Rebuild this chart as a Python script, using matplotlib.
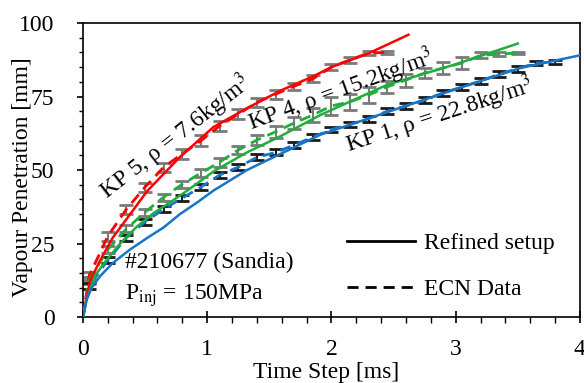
import matplotlib.pyplot as plt
from matplotlib.lines import Line2D
from matplotlib.ticker import MultipleLocator

plt.rcParams['font.family'] = ['Liberation Serif', 'DejaVu Serif']
plt.rcParams['mathtext.fontset'] = 'stix'

# ---- ECN experimental data (mean + error bars) ----
t_ecn_kp5 = [0, 0.05, 0.2, 0.35, 0.5, 0.65, 0.8, 0.95, 1.1, 1.25, 1.4, 1.55, 1.7, 1.85,
             2.0, 2.15, 2.3, 2.45]
s_ecn_kp5 = [0, 14, 27.5, 36.7, 44.2, 51, 55.5, 60, 65, 69, 73, 75.8, 78.5, 81,
             85, 87.5, 89.8, 90]
e_ecn_kp5 = [0, 1.5, 1.5, 1.5, 1.5, 1.5, 1.8, 1.8, 1.8, 1.8, 1.5, 1.5, 1.2, 1.2,
             1.0, 1.0, 0.8, 0.5]

t_ecn_kp4 = [0, 0.05, 0.2, 0.35, 0.5, 0.65, 0.8, 0.95, 1.1, 1.25, 1.4, 1.55, 1.7, 1.85,
             2.0, 2.15, 2.3, 2.45, 2.6, 2.75, 2.9, 3.05, 3.2, 3.35, 3.5]
s_ecn_kp4 = [0, 12.5, 23, 30, 35.7, 40.8, 45.2, 49, 52.7, 56.8, 60.2, 63, 66, 68.7,
             71.8, 73.2, 75.5, 78.3, 80.6, 83, 84.7, 86.4, 89, 89.4, 89.8]
e_ecn_kp4 = [0, 1.2, 1.2, 1.2, 1.2, 1.2, 1.2, 1.2, 1.5, 1.5, 1.8, 2.0, 2.2, 2.5,
             3.0, 2.8, 2.6, 2.0, 2.2, 1.7, 2.0, 2.0, 1.0, 0.7, 0.3]

t_ecn_kp1 = [0, 0.05, 0.2, 0.35, 0.5, 0.65, 0.8, 0.95, 1.1, 1.25, 1.4, 1.55, 1.7, 1.85,
             2.0, 2.15, 2.3, 2.45, 2.6, 2.75, 2.9, 3.05, 3.2, 3.35, 3.5, 3.65, 3.8]
s_ecn_kp1 = [0, 10.5, 19.4, 27, 32.4, 36.7, 40.5, 44.2, 48.3, 51, 54.3, 56, 58.5, 61.2,
             63.8, 65.5, 67.5, 70, 71.8, 73.8, 76.3, 78.2, 80.3, 82.6, 84.5, 86.4, 86.7]
e_ecn_kp1 = [0, 1.0, 1.0, 1.0, 1.0, 1.0, 1.0, 1.0, 1.0, 1.0, 1.0, 1.0, 1.0, 1.0,
             1.0, 1.0, 1.0, 1.0, 1.0, 1.0, 1.0, 1.0, 1.0, 1.0, 1.0, 0.8, 0.8]

# ---- Refined setup (simulation) ----
t_sim_kp5 = [0, 0.03, 0.06, 0.14, 0.24, 0.38, 0.52, 0.78, 1.05, 1.32, 1.59, 1.86, 2.0, 2.29, 2.62]
s_sim_kp5 = [0, 7, 12.6, 19.4, 27, 35, 43, 54.4, 64.6, 71, 77, 82, 85, 89.5, 96]

t_sim_kp4 = [0, 0.03, 0.1, 0.19, 0.3, 0.43, 0.57, 0.7, 0.84, 1.05, 1.32, 1.59, 1.91, 2.45, 2.98, 3.5]
s_sim_kp4 = [0, 6, 14.3, 19.4, 25, 30.6, 35.4, 39, 43, 49.5, 56, 61.5, 68.7, 79, 85.7, 93]

t_sim_kp1 = [0, 0.03, 0.07, 0.14, 0.24, 0.38, 0.52, 0.65, 0.78, 0.92, 1.05, 1.32, 1.59, 1.91,
             2.45, 2.98, 3.52, 4.0]
s_sim_kp1 = [0, 6, 10, 14, 18.4, 23, 27, 30.5, 35, 39, 43, 50, 55.5, 62, 69.7, 77.2, 84.7, 89]

c_red = '#ff0000'
c_green = '#1fae3c'
c_blue = '#1874c8'
fs = 17

fig = plt.figure(figsize=(5.84, 3.83), dpi=100)
ax = fig.add_axes([0.142, 0.172, 0.851, 0.768])

# error bars
for t, s, e, ec in [(t_ecn_kp5, s_ecn_kp5, e_ecn_kp5, '#7a7a7a'),
                    (t_ecn_kp4, s_ecn_kp4, e_ecn_kp4, '#7a7a7a'),
                    (t_ecn_kp1, s_ecn_kp1, e_ecn_kp1, '#1a1a1a')]:
    ax.errorbar(t[1:], s[1:], yerr=e[1:], fmt='none', ecolor=ec, elinewidth=1.5,
                capsize=5, capthick=2, zorder=2)

# ECN dashed lines
for t, s, c in [(t_ecn_kp5, s_ecn_kp5, c_red), (t_ecn_kp4, s_ecn_kp4, c_green),
                (t_ecn_kp1, s_ecn_kp1, c_blue)]:
    ax.plot(t, s, color=c, lw=2, ls=(0, (4, 2.5)), zorder=3)

# refined setup solid lines
for t, s, c in [(t_sim_kp5, s_sim_kp5, c_red), (t_sim_kp4, s_sim_kp4, c_green),
                (t_sim_kp1, s_sim_kp1, c_blue)]:
    ax.plot(t, s, color=c, lw=1.8, zorder=4)

ax.set_xlim(0, 4)
ax.set_ylim(0, 100)
ax.xaxis.set_major_locator(MultipleLocator(1))
ax.xaxis.set_minor_locator(MultipleLocator(0.2))
ax.yaxis.set_major_locator(MultipleLocator(25))
ax.yaxis.set_minor_locator(MultipleLocator(5))
ax.tick_params(axis='x', which='major', direction='inout', length=8, width=1.2, labelsize=fs, pad=12)
ax.tick_params(axis='x', which='minor', direction='out', length=4.3, width=1)
ax.tick_params(axis='y', which='major', direction='out', length=4.5, width=1.2, labelsize=fs, pad=16)
ax.tick_params(axis='y', which='minor', direction='out', length=3, width=1)
for sp in ax.spines.values():
    sp.set_linewidth(1.2)

ax.set_xlabel('Time Step [ms]', fontsize=fs, va='top')
ax.xaxis.set_label_coords(0.49, -0.152)
ax.set_ylabel('Vapour Penetration [mm]', fontsize=fs)
ax.yaxis.set_label_coords(-0.100, 0.476)

ax.text(0.74, 61, r'KP 5, ρ = 7.6kg/m$^3$', fontsize=fs, rotation=38,
        rotation_mode='anchor', ha='center', va='center', zorder=6)
ax.text(2.08, 77.3, r'KP 4, ρ = 15.2kg/m$^3$', fontsize=fs, rotation=20,
        rotation_mode='anchor', ha='center', va='center', zorder=6)
ax.text(2.87, 68.5, r'KP 1, ρ = 22.8kg/m$^3$', fontsize=fs, rotation=18,
        rotation_mode='anchor', ha='center', va='center', zorder=6)

ax.text(0.34, 18.7, '#210677 (Sandia)', fontsize=fs, ha='left', va='center', zorder=6)
ax.text(0.34, 7.2, r'P$_{\mathrm{inj}}$ = 150MPa', fontsize=fs, ha='left', va='center', zorder=6)

handles = [Line2D([], [], color='black', lw=2),
           Line2D([], [], color='black', lw=2, ls=(0, (4, 2.5)))]
ax.legend(handles, ['Refined setup', 'ECN Data'], loc='center',
          bbox_to_anchor=(0.74, 0.172), frameon=False, fontsize=fs,
          handlelength=2.9, handletextpad=0.35, labelspacing=1.05)

fig.savefig('out.png', dpi=100)
